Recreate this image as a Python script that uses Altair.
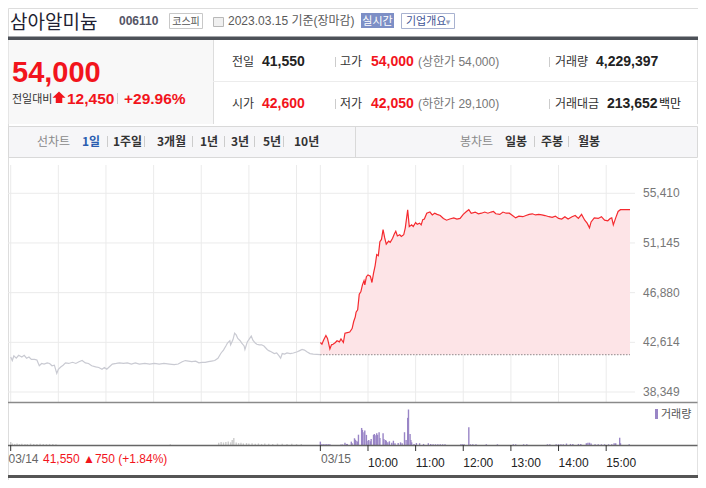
import altair as alt
import pandas as pd

# ---------------- data ----------------
# minute index: 0 = 03/14 09:00, 390 = 03/15 09:00, 780 = 03/15 15:30
prev_minutes = [0, 2, 4, 7, 10, 14, 17, 20, 23, 26, 30, 33, 36, 39, 42, 46, 49, 52, 55, 58, 60, 63, 66, 69, 73,
                78, 82, 86, 90, 94, 98, 102, 107, 111, 115, 118, 121, 124, 128, 133, 137, 142, 147, 152, 157, 162,
                169, 175, 181, 187, 193, 200, 206, 211, 216, 220, 224, 228, 233, 237, 241, 245, 249, 253, 257, 261,
                265, 268, 271, 273, 276, 277, 280, 282, 284, 286, 289, 291, 294, 295, 298, 301, 303, 305, 308, 310,
                313, 316, 319, 323, 325, 328, 332, 335, 338, 340, 342, 345, 348, 352, 356, 361, 364, 367, 370, 373,
                377, 381, 390]
prev_prices = [41350, 41050, 41450, 41250, 41500, 41350, 41500, 41250, 41350, 41150, 41150, 41100, 40600, 40800,
               40750, 40850, 40800, 40600, 40650, 39950, 40300, 40500, 40650, 40850, 40800, 40900, 40800, 40950,
               41050, 40850, 40800, 40600, 40500, 40450, 40300, 40450, 40300, 40500, 40750, 40800, 40850, 40800,
               40850, 40750, 40850, 40750, 40800, 40750, 40800, 40750, 40800, 40750, 40700, 40750, 40950, 41050,
               41000, 40950, 41000, 40850, 40900, 40900, 40950, 41000, 41050, 41250, 41700, 41950, 42300, 42550,
               42750, 42400, 42850, 43400, 43250, 42950, 42750, 42550, 42300, 42000, 42650, 42950, 43150, 42800,
               42550, 42450, 42400, 42400, 42300, 42000, 41900, 41800, 41650, 41700, 41450, 41250, 41650, 41600,
               41700, 41650, 41700, 41800, 41900, 42000, 41950, 41800, 41650, 41600, 41550]

today_minutes = [0, 2, 4, 7, 9, 12, 14, 16, 19, 21, 24, 26, 29, 31, 34, 37, 40, 42, 44, 45, 47, 49, 51, 53, 55, 56,
                 58, 60, 63, 65, 67, 69, 71, 73, 75, 77, 79, 81, 83, 86, 88, 91, 93, 95, 97, 100, 102, 105, 107, 110,
                 112, 115, 117, 120, 122, 125, 127, 129, 131, 134, 138, 141, 144, 147, 151, 155, 159, 163, 168, 172,
                 176, 180, 184, 187, 190, 195, 199, 203, 207, 211, 215, 218, 221, 226, 230, 234, 238, 242, 246, 250,
                 255, 259, 263, 267, 271, 275, 279, 283, 288, 292, 296, 300, 304, 308, 312, 317, 321, 325, 329, 333,
                 336, 339, 341, 345, 350, 354, 358, 362, 365, 367, 369, 372, 375, 378, 390]
today_prices = [42600, 42450, 42800, 43200, 42950, 42050, 42400, 42450, 42600, 42750, 42650, 42900, 42600, 43400,
                43450, 43500, 43800, 44400, 44800, 45200, 45400, 46750, 46950, 47550, 47900, 47550, 48250, 48400,
                48300, 47750, 48550, 49200, 50150, 50050, 51250, 51450, 52300, 51600, 51050, 51300, 51200, 51550,
                51900, 52150, 51750, 51850, 51700, 51850, 52450, 54000, 52550, 52700, 52550, 52900, 52750, 52850,
                52700, 53150, 53200, 53700, 53800, 53550, 53700, 53600, 53500, 53250, 53100, 53200, 53300, 53200,
                53250, 53600, 53850, 54000, 53700, 53800, 53650, 53700, 53800, 53700, 53800, 53850, 53650, 53600,
                53800, 53700, 53700, 53500, 53300, 53450, 53400, 53500, 53600, 53650, 53550, 53600, 53550, 53500,
                53400, 53350, 53450, 53250, 53200, 53400, 53200, 53400, 53500, 53250, 53600, 53100, 52850, 52450,
                52950, 53300, 53250, 53400, 53100, 53050, 53250, 53300, 52700, 53300, 53850, 54000, 54000]

prev_vol_minutes = [0, 2, 5, 8, 11, 14, 18, 21, 25, 29, 33, 37, 41, 45, 49, 53, 57, 201, 262, 265, 268, 271, 274,
                    277, 279, 281, 284, 287, 290, 293, 297, 300, 304, 308, 312, 316, 320, 325, 330, 336, 342, 348,
                    354, 360, 366]
prev_vols = [17000, 8000, 6000, 8000, 5000, 7000, 6000, 5000, 8000, 6000, 5000, 7000, 6000, 5000, 6000, 5000, 4000,
             4000, 12000, 17000, 14000, 17000, 20000, 15000, 28000, 40000, 14000, 11000, 12000, 9000, 11000, 8000,
             10000, 7000, 9000, 6000, 8000, 7000, 6000, 8000, 7000, 6000, 7000, 5000, 6000]

today_vol_minutes = [0, 2, 4, 6, 8, 10, 12, 26, 28, 31, 33, 34, 39, 40, 43, 44, 45, 47, 48, 52, 53, 55, 56, 58, 60,
                     61, 63, 64, 67, 68, 70, 71, 72, 74, 75, 79, 80, 82, 83, 85, 87, 90, 92, 94, 98, 101, 103, 106,
                     108, 110, 111, 113, 114, 115, 118, 121, 125, 130, 136, 139, 142, 145, 148, 151, 154, 157, 177,
                     179, 181, 187, 189, 192, 196, 209, 223, 243, 246, 256, 260, 286, 289, 297, 300, 303, 306, 310,
                     315, 318, 325, 328, 335, 337, 339, 341, 346, 350, 354, 358, 363, 367, 370, 372, 377, 378, 389]
today_vols = [19000, 4000, 4000, 4000, 4000, 4000, 4000, 3000, 3000, 13000, 6000, 6000, 19000, 10000, 38000, 30000,
              24000, 20000, 58000, 96000, 85000, 72000, 81000, 57000, 24000, 28000, 21000, 34000, 57000, 62000,
              55000, 66000, 57000, 72000, 40000, 66000, 34000, 28000, 24000, 15000, 21000, 13000, 24000, 10000,
              11000, 15000, 10000, 72000, 28000, 153000, 200000, 62000, 28000, 15000, 6000, 11000, 10000, 6000,
              10000, 6000, 4000, 4000, 4000, 4000, 4000, 4000, 4000, 4000, 4000, 100000, 4000, 4000, 4000, 4000,
              4000, 4000, 4000, 4000, 4000, 4000, 4000, 4000, 4000, 4000, 4000, 8000, 6000, 6000, 6000, 6000,
              10000, 13000, 13000, 8000, 4000, 4000, 4000, 4000, 4000, 4000, 10000, 10000, 41000, 10000, 4000]

y_ticks = [55410, 51145, 46880, 42614, 38349]
grid_minutes = [0, 60, 120, 180, 240, 300, 360, 390, 450, 510, 570, 630, 690, 750]
axis_tick_minutes = [0, 390, 450, 510, 570, 630, 690, 750]
hour_labels = ["10:00", "11:00", "12:00", "13:00", "14:00", "15:00"]
hour_label_minutes = [450, 510, 570, 630, 690, 750]
prev_close = 41550

# ---------------- style ----------------
KR = "Noto Sans CJK KR"
NUM = "Liberation Sans, Noto Sans CJK KR"
RED = "#f2141c"
DARK = "#222222"
GRID = "#ebebeb"
O = 8  # page margin: chart coordinates = screen coordinates - 8

X = alt.Scale(domain=[0, 780], range=[5.7 - O, 635 - O], nice=False, zero=False)
YP = alt.Scale(domain=[38349, 55410], range=[392 - O, 193.3 - O], nice=False, zero=False)
YV = alt.Scale(domain=[0, 200000], range=[445 - O, 409.5 - O], nice=False, zero=True)

ONE = pd.DataFrame({"k": [0]})
prev_df = pd.DataFrame({"t": prev_minutes, "p": prev_prices})
today_df = pd.DataFrame({"t": [m + 390 for m in today_minutes], "p": today_prices})
pvol_df = pd.DataFrame({"t": prev_vol_minutes, "v": prev_vols})
tvol_df = pd.DataFrame({"t": [m + 390 for m in today_vol_minutes], "v": today_vols})
ytick_df = pd.DataFrame({"p": y_ticks, "lab": [f"{v:,}" for v in y_ticks]})
grid_df = pd.DataFrame({"t": grid_minutes})
atick_df = pd.DataFrame({"t": axis_tick_minutes})
hlab_df = pd.DataFrame({"t": hour_label_minutes, "lab": hour_labels})


def V(v):
    return alt.value(v - O)


def label(s, x, y, size=12, color="#333", weight="normal", font=KR, align="left", baseline="alphabetic"):
    return alt.Chart(ONE).mark_text(text=s, fontSize=size, color=color, fontWeight=weight, font=font,
                                    align=align, baseline=baseline).encode(x=V(x), y=V(y))


def rect(x1, y1, x2, y2, **kw):
    return alt.Chart(ONE).mark_rect(**kw).encode(x=V(x1), x2=V(x2), y=V(y1), y2=V(y2))


def hline(x1, x2, y, color, w=1):
    return alt.Chart(ONE).mark_rule(color=color, strokeWidth=w).encode(x=V(x1), x2=V(x2), y=V(y))


def vline(x, y1, y2, color, w=1):
    return alt.Chart(ONE).mark_rule(color=color, strokeWidth=w).encode(x=V(x), y=V(y1), y2=V(y2))


RIGHT = 697.5  # right frame edge that fits inside the page

layers = []

# ---------- title row ----------
layers += [
    label("삼아알미늄", 10, 29, size=19, color="#1f1f33"),
    label("006110", 119, 25, size=12, color="#556", weight="bold", font=NUM),
    rect(169.5, 13.5, 202.5, 28.5, fill="#ffffff", stroke="#c8c8c8"),
    label("코스피", 186, 24.5, size=10, color="#555", align="center"),
    rect(213.5, 17.5, 223.5, 26.5, fill="#f0f0f0", stroke="#b8b8b8"),
    label("2023.03.15 기준(장마감)", 228, 25, size=12, color="#5a5a5a", font=NUM),
    rect(361, 13, 394, 28, fill="#7d8fc6"),
    label("실시간", 377.5, 24.5, size=11, color="#ffffff", align="center"),
    rect(401.5, 13.5, 454.5, 28.5, fill="#ffffff", stroke="#a8b2d0"),
    label("기업개요", 406, 24.5, size=11, color="#3f5596"),
    label("▾", 448, 24.5, size=9, color="#9aa3bd", font="DejaVu Sans", align="center"),
]

# ---------- info box ----------
layers += [
    rect(5, 40, 213, 124, fill="#f8f8f8"),
    rect(5, 36.5, RIGHT + 1, 40, fill="#4d5158"),
    vline(213.5, 40, 124, "#dddddd"),
    vline(RIGHT, 40, 124, "#dddddd"),
    vline(8.5, 40, 124, "#e6e6e6"),
    hline(213, RIGHT, 81.5, "#ececec"),
    label("54,000", 12, 82, size=29, color=RED, weight="bold", font=NUM),
    label("전일대비", 12, 103, size=11, color="#333"),
    alt.Chart(ONE).mark_point(shape="M0,-1L1,-0.05L0.5,-0.05L0.5,0.75L-0.5,0.75L-0.5,-0.05L-1,-0.05Z",
                              filled=True, color=RED, opacity=1, size=170).encode(x=V(59), y=V(98)),
    label("12,450", 67, 104, size=15.5, color=RED, weight="bold", font=NUM),
    vline(117.5, 93, 104, "#cccccc"),
    label("+29.96%", 124, 104, size=15.5, color=RED, weight="bold", font=NUM),
    label("전일", 232, 66, size=12, color="#333"),
    label("41,550", 262, 66, size=14, color=DARK, weight="bold", font=NUM),
    vline(335.5, 57, 67, "#cccccc"),
    label("고가", 340, 66, size=12, color="#333"),
    label("54,000", 371, 66, size=14, color=RED, weight="bold", font=NUM),
    label("(상한가 54,000)", 418, 66, size=12, color="#777", font=NUM),
    vline(549.5, 57, 67, "#cccccc"),
    label("거래량", 555, 66, size=12, color="#333"),
    label("4,229,397", 596, 66, size=14, color=DARK, weight="bold", font=NUM),
    label("시가", 232, 108, size=12, color="#333"),
    label("42,600", 262, 108, size=14, color=RED, weight="bold", font=NUM),
    vline(335.5, 99, 109, "#cccccc"),
    label("저가", 340, 108, size=12, color="#333"),
    label("42,050", 371, 108, size=14, color=RED, weight="bold", font=NUM),
    label("(하한가 29,100)", 418, 108, size=12, color="#777", font=NUM),
    vline(549.5, 99, 109, "#cccccc"),
    label("거래대금", 555, 108, size=12, color="#333"),
    label("213,652", 607, 108, size=14, color=DARK, weight="bold", font=NUM),
    label("백만", 659, 108, size=12, color=DARK),
]

# ---------- tab bar ----------
layers += [
    rect(8.5, 126.5, RIGHT, 157.5, fill="#f6f6f8", stroke="#d9d9d9"),
    vline(355.5, 127, 157, "#d9d9d9"),
    label("선차트", 37, 146, size=12, color="#8a8a8a"),
    label("1일", 82, 146, size=12, color="#2a5db0", weight="bold"),
    label("봉차트", 460, 146, size=12, color="#8a8a8a"),
]
for s, x in [("1주일", 113), ("3개월", 157), ("1년", 200), ("3년", 231), ("5년", 263), ("10년", 294),
             ("일봉", 505), ("주봉", 541), ("월봉", 578)]:
    layers.append(label(s, x, 146, size=12, color="#333", weight="bold"))
for x in [107.5, 144.5, 192.5, 224.5, 254.5, 283.5, 534.5, 568.5]:
    layers.append(vline(x, 136, 147, "#cccccc"))

# ---------- price panel ----------
layers += [
    vline(RIGHT, 160, 476, "#e2e2e2"),
    alt.Chart(grid_df).mark_rule(color=GRID).encode(
        x=alt.X("t:Q", scale=X, axis=None), y=V(165), y2=V(402)),
    alt.Chart(ytick_df).mark_rule(color=GRID).encode(
        y=alt.Y("p:Q", scale=YP, axis=None), x=V(8), x2=V(635)),
    alt.Chart(today_df).mark_area(color="#fde4e7", opacity=1).encode(
        x=alt.X("t:Q", scale=X, axis=None), y=alt.Y("p:Q", scale=YP, axis=None),
        y2=alt.Y2Datum(prev_close)),
    alt.Chart(ONE).mark_rule(color="#555555", strokeDash=[1, 2], strokeWidth=1).encode(
        x=alt.XDatum(390, scale=X, axis=None), x2=alt.X2Datum(780),
        y=alt.YDatum(prev_close, scale=YP, axis=None)),
    alt.Chart(prev_df).mark_line(color="#c9cad2", strokeWidth=1.2).encode(
        x=alt.X("t:Q", scale=X, axis=None), y=alt.Y("p:Q", scale=YP, axis=None)),
    alt.Chart(today_df).mark_line(color="#f52a2f", strokeWidth=1.2).encode(
        x=alt.X("t:Q", scale=X, axis=None), y=alt.Y("p:Q", scale=YP, axis=None)),
    alt.Chart(ytick_df).mark_text(align="left", baseline="middle", fontSize=12, color="#777",
                                  font="Liberation Sans").encode(
        y=alt.Y("p:Q", scale=YP, axis=None), x=V(643), text="lab:N"),
]

# ---------- volume panel ----------
layers += [
    hline(8, RIGHT, 402.5, "#8a8a8a", 1.5),
    alt.Chart(pvol_df).mark_bar(color="#cccccc", width=1.4).encode(
        x=alt.X("t:Q", scale=X, axis=None), y=alt.Y("v:Q", scale=YV, axis=None)),
    alt.Chart(tvol_df).mark_bar(color="#9985c6", width=1.4).encode(
        x=alt.X("t:Q", scale=X, axis=None), y=alt.Y("v:Q", scale=YV, axis=None)),
    hline(8, RIGHT, 445.5, "#666666", 1.5),
    alt.Chart(atick_df).mark_rule(color="#333333").encode(
        x=alt.X("t:Q", scale=X, axis=None), y=V(445), y2=V(451)),
    rect(655, 409, 658, 419, fill="#9985c6"),
    label("거래량", 661, 418, size=11, color="#555"),
    label("03/14", 8.5, 463, size=12, color="#666", font=NUM),
    label("41,550 ▲750 (+1.84%)", 43, 463, size=12, color=RED, font="Liberation Sans, DejaVu Sans"),
    label("03/15", 321, 463, size=12, color="#666", font=NUM),
    alt.Chart(hlab_df).mark_text(align="left", fontSize=12, color="#222", font="Liberation Sans").encode(
        x=alt.X("t:Q", scale=X, axis=None), y=V(463), text="lab:N"),
    rect(8, 475, RIGHT + 1, 478, fill="#555555"),
]

chart = alt.layer(*layers).resolve_scale(y="independent").properties(
    width=690, height=472, autosize="none", padding=0,
).configure_view(stroke=None).configure(background="#ffffff")

chart.save("out.html", embed_options={"renderer": "svg", "actions": False})
